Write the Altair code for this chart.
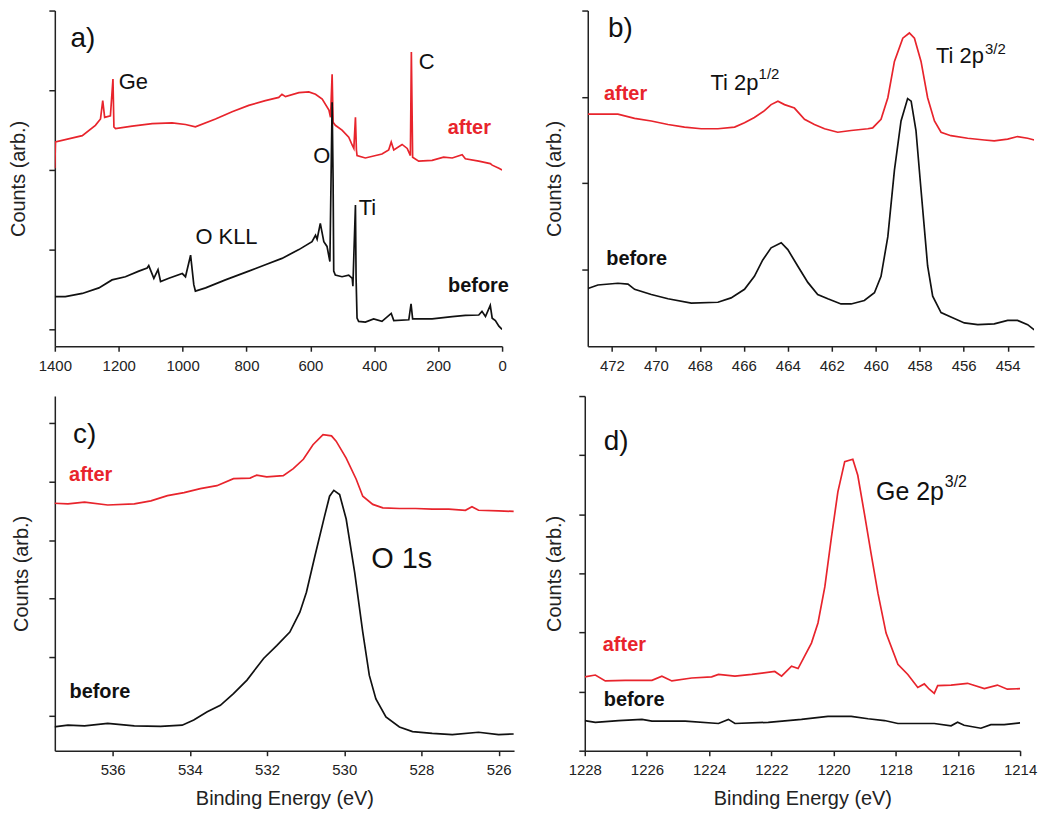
import altair as alt
import pandas as pd

RED = "#e8242c"
BLACK = "#111111"
FONT = "Liberation Sans"

# ---------------- panel a: survey spectrum ----------------
a_after_E = [1400, 1398, 1314, 1273, 1257, 1250, 1244, 1226, 1218, 1215, 1210, 1158, 1095, 1033, 991, 960,
             897, 845, 793, 741, 699, 689, 678, 636, 605, 584, 563, 542, 537, 532, 529, 522, 501, 480, 469,
             464, 459, 456, 454, 428, 376, 355, 347, 339, 313, 297, 287, 284, 280, 261, 219, 183, 156, 125,
             115, 73, 37, 31, 10, 0]
a_after_I = [2.02, 2.35, 2.43, 2.56, 2.64, 2.87, 2.66, 2.68, 3.14, 2.54, 2.52, 2.55, 2.58, 2.59, 2.57, 2.54,
             2.64, 2.73, 2.81, 2.87, 2.91, 2.95, 2.92, 2.97, 2.98, 2.95, 2.89, 2.75, 2.66, 3.20, 2.60, 2.56,
             2.50, 2.41, 2.31, 2.27, 2.66, 2.25, 2.18, 2.15, 2.20, 2.25, 2.35, 2.25, 2.32, 2.27, 2.18, 3.48,
             2.16, 2.11, 2.12, 2.16, 2.15, 2.19, 2.14, 2.11, 2.08, 2.06, 2.02, 2.00]
a_before_E = [1400, 1367, 1314, 1262, 1221, 1179, 1137, 1111, 1106, 1090, 1077, 1069, 1043, 1001, 991, 975,
              965, 960, 928, 866, 793, 741, 689, 636, 595, 584, 579, 569, 558, 548, 539, 532, 529, 527, 522,
              501, 480, 469, 467, 464, 459, 457, 454, 449, 428, 402, 376, 347, 339, 292, 285, 280, 219, 156,
              115, 73, 63, 52, 37, 31, 21, 10, 0]
a_before_I = [0.41, 0.41, 0.45, 0.52, 0.62, 0.66, 0.73, 0.77, 0.80, 0.64, 0.75, 0.60, 0.64, 0.70, 0.66, 0.93,
              0.56, 0.48, 0.52, 0.62, 0.73, 0.81, 0.89, 1.00, 1.10, 1.18, 1.13, 1.33, 1.10, 1.04, 0.85, 2.85,
              1.89, 0.73, 0.68, 0.66, 0.68, 0.64, 0.54, 0.93, 1.56, 0.64, 0.14, 0.10, 0.09, 0.13, 0.10, 0.20,
              0.11, 0.12, 0.32, 0.13, 0.13, 0.16, 0.175, 0.18, 0.225, 0.16, 0.30, 0.14, 0.11, 0.04, 0.00]

# ---------------- panel b: Ti 2p ----------------
b_after_E = [473.09, 472.48, 471.73, 470.97, 470.21, 469.45, 468.70, 467.94, 467.18, 466.42, 465.97, 465.52,
             465.06, 464.76, 464.45, 464.15, 463.70, 463.24, 462.79, 462.33, 461.73, 461.12, 460.36, 460.14,
             459.76, 459.45, 459.15, 458.77, 458.47, 458.24, 457.94, 457.64, 457.33, 457.03, 456.58, 455.82,
             455.06, 454.61, 454.00, 453.55, 453.09, 452.79]
b_after_I = [1.80, 1.80, 1.80, 1.75, 1.72, 1.68, 1.65, 1.63, 1.63, 1.65, 1.70, 1.76, 1.84, 1.91, 1.95, 1.91,
             1.87, 1.74, 1.68, 1.63, 1.59, 1.61, 1.63, 1.64, 1.74, 1.99, 2.41, 2.68, 2.74, 2.68, 2.41, 1.99,
             1.72, 1.59, 1.55, 1.52, 1.50, 1.49, 1.51, 1.54, 1.52, 1.50]
b_before_E = [473.09, 472.64, 471.73, 471.27, 470.97, 470.21, 469.45, 468.39, 467.18, 466.58, 465.97, 465.52,
              465.14, 464.76, 464.30, 464.00, 463.55, 463.09, 462.64, 462.18, 461.58, 461.12, 460.52, 460.06,
              459.76, 459.45, 459.15, 458.85, 458.55, 458.39, 458.17, 457.94, 457.64, 457.41, 457.03, 456.58,
              455.97, 455.36, 454.61, 454.00, 453.55, 453.09, 452.79]
b_before_I = [-0.22, -0.18, -0.16, -0.17, -0.23, -0.29, -0.34, -0.39, -0.38, -0.33, -0.23, -0.08, 0.11, 0.25,
              0.31, 0.23, 0.04, -0.15, -0.29, -0.34, -0.40, -0.40, -0.36, -0.27, -0.08, 0.38, 1.15, 1.72, 1.98,
              1.95, 1.61, 0.92, 0.04, -0.31, -0.50, -0.55, -0.62, -0.64, -0.63, -0.59, -0.59, -0.64, -0.70]

# ---------------- panel c: O 1s ----------------
c_after_E = [537.52, 537.16, 536.73, 536.13, 535.44, 535.01, 534.58, 534.15, 533.73, 533.30, 532.87, 532.44,
             532.27, 532.01, 531.58, 531.32, 531.06, 530.81, 530.55, 530.33, 530.21, 529.95, 529.69, 529.52,
             529.26, 529.00, 528.57, 528.15, 527.72, 527.29, 526.86, 526.69, 526.52, 526.00, 525.61]
c_after_I = [3.63, 3.62, 3.65, 3.60, 3.62, 3.67, 3.76, 3.81, 3.88, 3.93, 4.05, 4.06, 4.11, 4.08, 4.10, 4.22,
             4.38, 4.63, 4.80, 4.78, 4.69, 4.40, 4.04, 3.75, 3.61, 3.55, 3.54, 3.54, 3.53, 3.53, 3.51, 3.57,
             3.51, 3.50, 3.49]
c_before_E = [537.52, 537.16, 536.73, 536.13, 535.44, 534.76, 534.20, 533.90, 533.55, 533.21, 532.87, 532.52,
              532.09, 531.75, 531.41, 531.15, 530.98, 530.76, 530.51, 530.38, 530.27, 530.12, 529.95, 529.73,
              529.52, 529.35, 529.18, 528.92, 528.57, 528.23, 527.72, 527.20, 526.52, 526.00, 525.61]
c_before_I = [-0.19, -0.16, -0.17, -0.13, -0.17, -0.18, -0.16, -0.07, 0.07, 0.18, 0.38, 0.61, 0.98, 1.20, 1.43,
              1.77, 2.11, 2.73, 3.41, 3.75, 3.85, 3.78, 3.36, 2.45, 1.43, 0.69, 0.29, -0.02, -0.19, -0.27,
              -0.30, -0.32, -0.28, -0.32, -0.31]

# ---------------- panel d: Ge 2p3/2 ----------------
d_after_E = [1228.00, 1227.66, 1227.34, 1226.70, 1225.84, 1225.52, 1225.20, 1224.56, 1223.92, 1223.70, 1223.17,
             1222.63, 1221.89, 1221.67, 1221.35, 1221.14, 1220.93, 1220.71, 1220.50, 1220.28, 1220.07, 1219.86,
             1219.64, 1219.38, 1219.22, 1219.00, 1218.79, 1218.57, 1218.31, 1217.93, 1217.61, 1217.29, 1217.08,
             1216.92, 1216.76, 1216.65, 1216.22, 1215.69, 1215.15, 1214.73, 1214.41, 1214.00]
d_after_I = [1.25, 1.28, 1.18, 1.19, 1.19, 1.26, 1.18, 1.23, 1.25, 1.29, 1.26, 1.29, 1.34, 1.26, 1.43, 1.39,
             1.60, 1.82, 2.16, 2.77, 3.60, 4.38, 4.89, 4.93, 4.66, 3.99, 3.33, 2.66, 1.99, 1.46, 1.29, 1.07,
             1.13, 1.04, 0.97, 1.10, 1.11, 1.14, 1.05, 1.11, 1.04, 1.05]
d_before_E = [1228.00, 1227.66, 1226.91, 1226.16, 1225.84, 1224.77, 1223.70, 1223.38, 1223.17, 1222.10, 1221.03,
              1220.18, 1219.43, 1218.89, 1218.36, 1217.93, 1217.29, 1216.76, 1216.22, 1216.01, 1215.80, 1215.26,
              1214.94, 1214.51, 1214.00]
d_before_I = [0.51, 0.48, 0.51, 0.53, 0.50, 0.50, 0.46, 0.53, 0.46, 0.48, 0.53, 0.58, 0.58, 0.54, 0.51, 0.46,
              0.46, 0.46, 0.42, 0.48, 0.43, 0.38, 0.44, 0.44, 0.47]

# ---------------- annotations (text, energy, counts, font size) ----------------
a_notes = [("a)", 1351, 3.64, 28), ("Ge", 1200, 3.10, 22), ("C", 261, 3.35, 22), ("O", 591, 2.17, 22),
           ("Ti", 449, 1.52, 22), ("O KLL", 960, 1.16, 22)]
a_tags = [("after", 170, 2.52), ("before", 169, 0.54)]
b_notes = [("b)", 472.18, 2.79, 28), ("Ti 2p", 467.52, 2.16, 22), ("1/2", 465.33, 2.27, 15),
           ("Ti 2p", 457.26, 2.47, 22), ("3/2", 455.03, 2.56, 15)]
b_tags = [("after", 472.36, 2.03), ("before", 472.26, 0.12)]
c_notes = [("c)", 537.03, 4.80, 28), ("O 1s", 529.30, 2.68, 29)]
c_tags = [("after", 537.13, 4.12), ("before", 537.12, 0.41)]
d_notes = [("d)", 1227.39, 5.22, 28), ("Ge 2p", 1218.63, 4.38, 25), ("3/2", 1216.42, 4.55, 16)]
d_tags = [("after", 1227.42, 1.79), ("before", 1227.39, 0.86)]


def series_df(Ea, Ia, Eb, Ib):
    da = pd.DataFrame({"E": Ea, "I": Ia, "s": "after"})
    da["o"] = range(len(da))
    db = pd.DataFrame({"E": Eb, "I": Ib, "s": "before"})
    db["o"] = range(len(db))
    return pd.concat([da, db], ignore_index=True)


def panel(df, xdom, xticks, ydom, yticks, w, h, ytp, notes, tags, xtitle=""):
    xs = alt.Scale(domain=xdom, reverse=True, nice=False, zero=False)
    ys = alt.Scale(domain=ydom, nice=False, zero=False)
    xkw = dict(values=xticks, format="d", tickSize=5, labelPadding=7, labelFontSize=15, labelFlush=False,
               titleFontSize=20, titlePadding=11, titleFontWeight="normal")
    xaxis = alt.Axis(title=xtitle, **xkw) if xtitle else alt.Axis(title=None, **xkw)
    yaxis = alt.Axis(title="Counts (arb.)", values=yticks, labels=False, tickSize=6,
                     minExtent=0, maxExtent=200, titlePadding=ytp, titleFontSize=20,
                     titleFontWeight="normal")
    X = alt.X("E:Q", scale=xs, axis=xaxis)
    Y = alt.Y("I:Q", scale=ys, axis=yaxis)
    lines = alt.Chart(df).mark_line(strokeWidth=1.7, clip=True).encode(
        x=X, y=Y,
        color=alt.Color("s:N", scale=alt.Scale(domain=["after", "before"], range=[RED, BLACK]), legend=None),
        order=alt.Order("o:Q"),
    )
    nd = pd.DataFrame(notes, columns=["t", "E", "I", "sz"])
    txt = alt.Chart(nd).mark_text(align="left", baseline="middle", font=FONT, color=BLACK).encode(
        x=X, y=Y, text="t:N", size=alt.Size("sz:Q", scale=None),
    )
    td = pd.DataFrame(tags, columns=["t", "E", "I"])
    tag_after = alt.Chart(td[td.t == "after"]).mark_text(
        align="left", baseline="middle", font=FONT, fontWeight="bold", fontSize=20, color=RED).encode(
        x=X, y=Y, text="t:N")
    tag_before = alt.Chart(td[td.t == "before"]).mark_text(
        align="left", baseline="middle", font=FONT, fontWeight="bold", fontSize=20, color=BLACK).encode(
        x=X, y=Y, text="t:N")
    return alt.layer(lines, txt, tag_after, tag_before).properties(width=w, height=h)


pa = panel(series_df(a_after_E, a_after_I, a_before_E, a_before_I), [0, 1400],
           list(range(0, 1401, 200)), [-0.2125, 4.0], [0, 1, 2, 3, 4], 449, 337, 20, a_notes, a_tags)
pb = panel(series_df(b_after_E, b_after_I, b_before_E, b_before_I), [452.8, 473.1],
           list(range(454, 473, 2)), [-0.89, 3.0], [0, 1, 2, 3], 448, 337, 17, b_notes, b_tags)
pc = panel(series_df(c_after_E, c_after_I, c_before_E, c_before_I), [525.6, 537.5],
           list(range(526, 537, 2)), [-0.595, 5.46], [0, 1, 2, 3, 4, 5], 461, 356, 17, c_notes, c_tags,
           "Binding Energy (eV)")
pd_ = panel(series_df(d_after_E, d_after_I, d_before_E, d_before_I), [1214, 1228],
            list(range(1214, 1229, 2)), [0, 6], [0, 1, 2, 3, 4, 5, 6], 437, 356, 14, d_notes, d_tags,
            "Binding Energy (eV)")

row1 = alt.hconcat(pa, pb, spacing=86, bounds="flush")
row2 = alt.hconcat(pc, pd_, spacing=71, bounds="flush")
chart = alt.vconcat(row1, row2, spacing=22).properties(
    padding={"left": 0, "top": 0, "right": 5, "bottom": 4}, background="white"
).configure_view(stroke=None).configure_axis(
    grid=False, domainColor="#222222", tickColor="#222222", labelColor="#222222", titleColor="#222222",
    domainWidth=1.5, tickWidth=1.5, labelFont=FONT, titleFont=FONT
)

chart.save("out.html", embed_options={"renderer": "svg", "actions": False})
